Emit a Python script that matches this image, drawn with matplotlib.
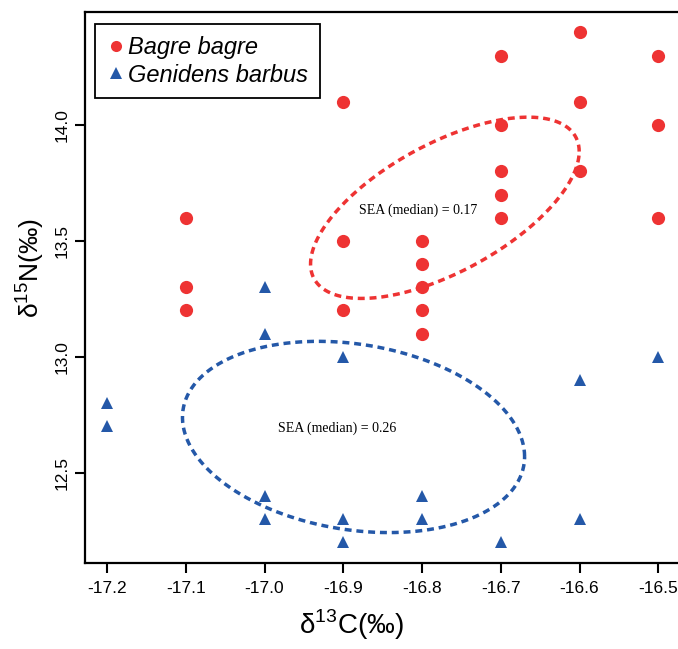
import numpy as np
import matplotlib
matplotlib.use('Agg')
import matplotlib.pyplot as plt
from matplotlib.lines import Line2D

plt.rcParams['font.family'] = ['Liberation Sans', 'DejaVu Sans']
plt.rcParams['mathtext.fontset'] = 'custom'
plt.rcParams['mathtext.rm'] = 'Liberation Sans'

# Bagre bagre (d13C, d15N)
bagre_x = [-17.1, -17.1, -17.1,
           -16.9, -16.9, -16.9,
           -16.8, -16.8, -16.8, -16.8, -16.8,
           -16.7, -16.7, -16.7, -16.7, -16.7,
           -16.6, -16.6, -16.6,
           -16.5, -16.5, -16.5]
bagre_y = [13.6, 13.3, 13.2,
           14.1, 13.5, 13.2,
           13.5, 13.4, 13.3, 13.2, 13.1,
           14.3, 14.0, 13.8, 13.7, 13.6,
           14.4, 14.1, 13.8,
           14.3, 14.0, 13.6]

# Genidens barbus
gen_x = [-17.2, -17.2,
         -17.0, -17.0, -17.0, -17.0,
         -16.9, -16.9, -16.9,
         -16.8, -16.8,
         -16.7,
         -16.6, -16.6,
         -16.5]
gen_y = [12.8, 12.7,
         13.3, 13.1, 12.4, 12.3,
         13.0, 12.3, 12.2,
         12.4, 12.3,
         12.2,
         12.9, 12.3,
         13.0]

# standard ellipses (centre, covariance)
bagre_center = [-16.771, 13.643]
bagre_cov = [[0.0291, 0.0414], [0.0414, 0.1530]]
gen_center = [-16.887, 12.654]
gen_cov = [[0.0472, -0.0184], [-0.0184, 0.1703]]

sea_labels = ['SEA (median) = 0.17', 'SEA (median) = 0.26']
sea_label_pos = [(-16.880, 13.633), (-16.983, 12.691)]

red = '#EE3333'
blue = '#2458A8'


def ellipse(center, cov, n=300):
    t = np.linspace(0, 2 * np.pi, n)
    L = np.linalg.cholesky(np.array(cov))
    pts = L @ np.vstack([np.cos(t), np.sin(t)])
    return pts[0] + center[0], pts[1] + center[1]


fig = plt.figure(figsize=(6.78, 6.49), dpi=100)
ax = fig.add_axes([0.1254, 0.1325, 0.878, 0.849])

ax.plot(bagre_x, bagre_y, 'o', color=red, markersize=9.5, markeredgewidth=0, clip_on=False)
ax.plot(gen_x, gen_y, '^', color=blue, markersize=9, markeredgewidth=0, clip_on=False)

ex, ey = ellipse(bagre_center, bagre_cov)
ax.plot(ex, ey, color=red, lw=2.5, dashes=(2.0, 1.4))
ex, ey = ellipse(gen_center, gen_cov)
ax.plot(ex, ey, color=blue, lw=2.5, dashes=(2.0, 1.4))

for txt, (tx, ty) in zip(sea_labels, sea_label_pos):
    ax.text(tx, ty, txt, fontsize=10, family='Liberation Serif', ha='left', va='center')

ax.set_xlim(-17.228, -16.472)
ax.set_ylim(12.110, 14.488)
ax.set_xticks([-17.2, -17.1, -17.0, -16.9, -16.8, -16.7, -16.6, -16.5])
ax.set_xticklabels(['-17.2', '-17.1', '-17.0', '-16.9', '-16.8', '-16.7', '-16.6', '-16.5'])
ax.set_yticks([12.5, 13.0, 13.5, 14.0])
ax.set_yticklabels(['12.5', '13.0', '13.5', '14.0'], rotation=90, va='center')
ax.tick_params(labelsize=12.5, width=1.5, length=7)
ax.tick_params(axis='x', pad=6)
ax.tick_params(axis='y', pad=4)

for s in ax.spines.values():
    s.set_linewidth(1.6)

ax.set_xlabel('δ$^{13}$C(‰)', fontsize=20)
ax.xaxis.set_label_coords(0.447, -0.1125)
ax.set_ylabel('δ$^{15}$N(‰)', fontsize=19)
ax.yaxis.set_label_coords(-0.094, 0.535)
ax.xaxis.label.set_va('center')
ax.yaxis.label.set_va('center')

handles = [Line2D([], [], marker='o', ls='', color=red, markersize=8, markeredgewidth=0),
           Line2D([], [], marker='^', ls='', color=blue, markersize=8, markeredgewidth=0)]
leg = ax.legend(handles, ['Bagre bagre', 'Genidens barbus'], loc='upper left',
                prop={'style': 'italic', 'size': 17}, fancybox=False, edgecolor='black',
                framealpha=1, handletextpad=0.1, handlelength=0.8, borderpad=0.5,
                labelspacing=0.2, borderaxespad=0, bbox_to_anchor=(0.0168, 0.978))
leg.get_frame().set_linewidth(1.3)

fig.savefig('out.png', dpi=100)
